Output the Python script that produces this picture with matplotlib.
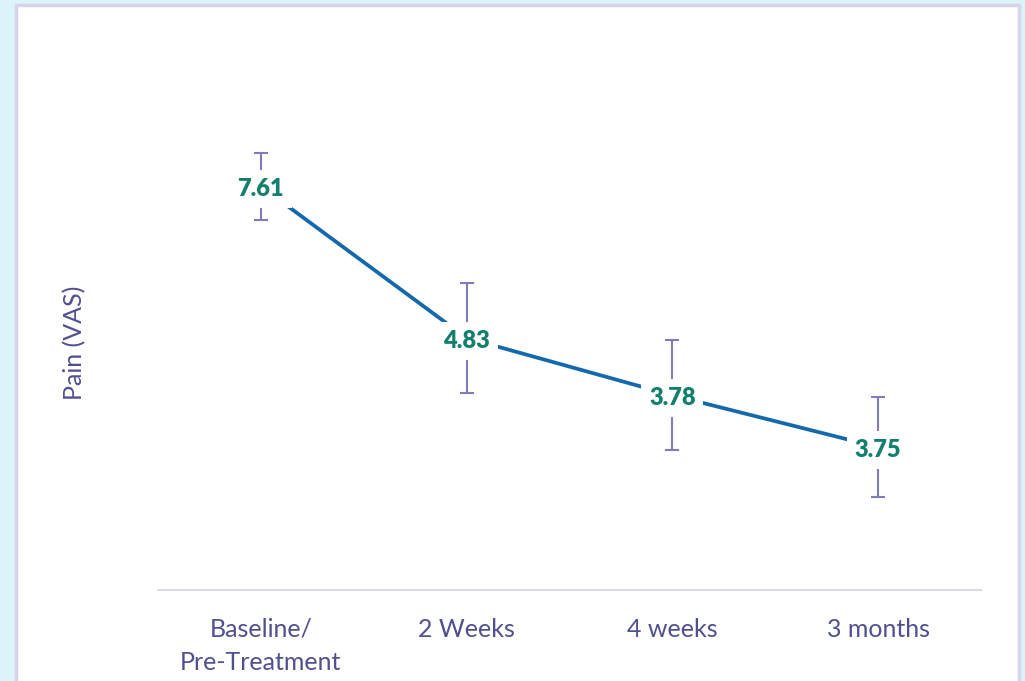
import matplotlib.pyplot as plt
import matplotlib.patches as patches
import numpy as np

# --- Дані ---
categories = ["Baseline/\nPre-Treatment", "2 Weeks", "4 weeks", "3 months"]
pain_plotted = [7.61, 4.83, 3.78, 2.83]   # положення точок на графіку
pain_labels = ["7.61", "4.83", "3.78", "3.75"]  # підписи як у джерелі
pain_err = [0.62, 1.01, 1.01, 0.91]

# --- Кольори ---
bg_color = "#dcf3fa"
frame_color = "#d6d3ea"
line_color = "#1369ab"
label_color = "#12806c"
err_color = "#7f7cb9"
text_color = "#50508f"
axis_color = "#dcd8ee"

fig = plt.figure(figsize=(10.25, 6.81), dpi=100)
fig.patch.set_facecolor(bg_color)

# біла панель з рамкою
fig.add_artist(
    patches.Rectangle(
        (16 / 1025, -0.05), (1019 - 16) / 1025, 1 - 4.5 / 681 + 0.05,
        transform=fig.transFigure, facecolor="white",
        edgecolor=frame_color, lw=2.5, zorder=0,
    )
)

ax = fig.add_axes([158 / 1025, (681 - 590) / 681, 823 / 1025, (590 - 56) / 681])
ax.set_facecolor("none")

x = np.arange(len(categories))
ax.plot(x, pain_plotted, color=line_color, lw=2.7, zorder=2)
ax.errorbar(x, pain_plotted, yerr=pain_err, fmt="none", ecolor=err_color,
            elinewidth=1.5, capsize=5, capthick=1.5, zorder=1)

for xi, yi, lab in zip(x, pain_plotted, pain_labels):
    ax.annotate(lab, (xi, yi), xytext=(0, -2), textcoords="offset points",
                ha="center", va="center", color=label_color,
                fontsize=17, fontweight="heavy", family="Lato", zorder=3,
                bbox=dict(boxstyle="square,pad=0.33", fc="white", ec="none"))

ax.set_xlim(-0.5, 3.5)
ax.set_ylim(0.21, 10)
ax.set_xticks(x)
ax.set_xticklabels(categories, color=text_color, fontsize=18, family="Lato",
                   linespacing=1.55)
ax.tick_params(axis="x", length=0, pad=20)
ax.set_yticks([])
for s in ["left", "right", "top"]:
    ax.spines[s].set_visible(False)
ax.spines["bottom"].set_color(axis_color)
ax.spines["bottom"].set_linewidth(1.5)

fig.text(75 / 1025, (681 - 343) / 681, "Pain (VAS)", rotation=90,
         ha="center", va="center", color=text_color, fontsize=18, family="Lato")

fig.savefig("out.png", dpi=100, facecolor=fig.get_facecolor())
